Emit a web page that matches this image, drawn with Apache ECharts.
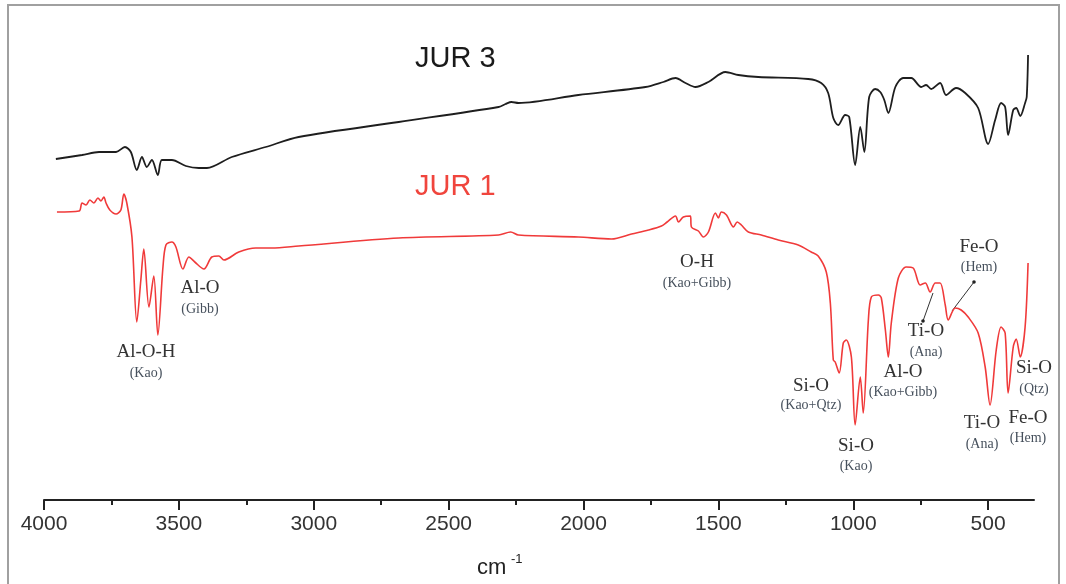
<!DOCTYPE html>
<html>
<head>
<meta charset="utf-8">
<script src="https://cdn.jsdelivr.net/npm/echarts@6/dist/echarts.min.js"></script>
<style>
  html, body { margin: 0; padding: 0; background: #fff; }
  #chart { width: 1066px; height: 584px; }
</style>
</head>
<body>
<div id="chart"></div>
<script>
// ---- data (wavenumber in cm-1, transmittance in arbitrary units) ----
const jur3Wavenumber = [3956,3859,3796,3733,3700,3678,3656,3637,3619,3600,3578,3563,3526,3474,3426,3396,3304,3178,3056,2685,2315,2289,2267,2241,2019,1770,1704,1659,1622,1585,1537,1474,1426,1352,1167,1119,1093,1074,1056,1030,1015,993,974,959,941,919,900,885,870,844,815,785,748,730,711,678,656,619,585,537,500,474,452,437,426,407,396,381,363,357,352];
const jur3Value      = [341,345,348,348,353,348,330,343,333,340,325,340,340,334,332,332,343,353,363,378,393,396,398,397,405,413,418,422,417,413,418,428,425,423,421,417,407,382,375,385,383,335,373,348,403,411,408,400,387,413,422,422,413,415,411,417,405,412,407,392,356,380,397,393,365,390,392,384,397,403,445];

const jur1Wavenumber = [3952,3870,3859,3844,3830,3815,3800,3789,3778,3770,3756,3733,3715,3704,3693,3674,3656,3641,3630,3611,3593,3578,3559,3548,3526,3511,3485,3463,3441,3407,3378,3352,3333,3278,3215,3156,3056,2685,2315,2270,2241,2019,1896,1822,1759,1711,1690,1659,1648,1630,1604,1600,1574,1556,1537,1511,1500,1489,1470,1444,1430,1415,1389,1341,1278,1204,1156,1130,1100,1085,1074,1067,1052,1037,1026,1007,993,974,963,944,933,907,896,881,870,859,833,804,778,752,733,715,696,678,659,648,622,600,574,537,511,493,470,452,437,426,407,396,381,363,352];
const jur1Value      = [288,289,297,295,300,297,302,299,303,297,290,286,290,306,297,263,178,220,251,193,224,165,233,255,258,253,231,243,238,231,243,244,240,248,252,252,254,262,265,268,265,263,261,266,270,274,278,284,278,283,284,273,269,263,268,287,282,288,285,273,278,275,268,265,260,255,248,244,228,197,140,138,127,157,160,143,75,123,87,180,203,205,202,170,143,177,222,233,232,215,217,208,217,217,195,180,192,190,183,167,133,95,150,173,167,107,153,161,143,173,237];

const majorTicks = [4000,3500,3000,2500,2000,1500,1000,500];
const minorTicks = [3750,3250,2750,2250,1750,1250,750];

const annotations = [
  // [main, sub, x, yMain, ySub]
  ['Al-O-H', '(Kao)', 146, 352, 373],
  ['Al-O', '(Gibb)', 200, 288, 309],
  ['O-H', '(Kao+Gibb)', 697, 262, 283],
  ['Si-O', '(Kao+Qtz)', 811, 386, 405],
  ['Si-O', '(Kao)', 856, 446, 466],
  ['Al-O', '(Kao+Gibb)', 903, 372, 392],
  ['Ti-O', '(Ana)', 926, 331, 352],
  ['Fe-O', '(Hem)', 979, 247, 267],
  ['Ti-O', '(Ana)', 982, 423, 444],
  ['Fe-O', '(Hem)', 1028, 418, 438],
  ['Si-O', '(Qtz)', 1034, 368, 389]
];

const zip = (xs, ys) => xs.map((x, i) => [x, ys[i]]);

const graphics = [
  { type: 'rect', shape: { x: 8, y: 5, width: 1051, height: 600 },
    style: { fill: 'none', stroke: '#a0a0a0', lineWidth: 2 }, silent: true, z: 0 },
  { type: 'text', left: 415, top: 44, style: { text: 'JUR 3', font: '29px "Liberation Sans", Arial, sans-serif', fill: '#1a1a1a' } },
  { type: 'text', left: 415, top: 172, style: { text: 'JUR 1', font: '29px "Liberation Sans", Arial, sans-serif', fill: '#f0453d' } },
  { type: 'text', left: 477, top: 557, style: { text: 'cm', font: '22px "Liberation Sans", Arial, sans-serif', fill: '#222' } },
  { type: 'text', left: 511, top: 553, style: { text: '-1', font: '13px "Liberation Sans", Arial, sans-serif', fill: '#222' } },
  // arrows
  { type: 'line', shape: { x1: 923, y1: 321, x2: 933, y2: 293 }, style: { stroke: '#333', lineWidth: 1 } },
  { type: 'circle', shape: { cx: 923, cy: 321, r: 1.8 }, style: { fill: '#222' } },
  { type: 'line', shape: { x1: 952, y1: 311, x2: 974, y2: 282 }, style: { stroke: '#333', lineWidth: 1 } },
  { type: 'circle', shape: { cx: 974, cy: 282, r: 1.8 }, style: { fill: '#222' } }
];
annotations.forEach(a => {
  graphics.push({ type: 'text', x: a[2], y: a[3], style: { text: a[0], font: '19px "Liberation Serif", "Times New Roman", serif', fill: '#333', align: 'center', verticalAlign: 'middle' } });
  graphics.push({ type: 'text', x: a[2], y: a[4], style: { text: a[1], font: '14px "Liberation Serif", "Times New Roman", serif', fill: '#46505c', align: 'center', verticalAlign: 'middle' } });
});

const chart = echarts.init(document.getElementById('chart'), null, { renderer: 'canvas' });
chart.setOption({
  animation: false,
  backgroundColor: '#fff',
  grid: { left: 44, right: 32, top: 5, bottom: 84, containLabel: false },
  xAxis: [
    {
      type: 'value', min: 330, max: 4000, inverse: true, position: 'bottom',
      axisLine: { show: true, lineStyle: { color: '#222', width: 2 } },
      axisTick: { show: true, customValues: majorTicks, length: 10, lineStyle: { color: '#222', width: 2 } },
      axisLabel: { customValues: majorTicks, fontSize: 21, color: '#333', margin: 14,
        fontFamily: '"Liberation Sans", Arial, sans-serif', formatter: v => String(v) },
      splitLine: { show: false }
    },
    {
      type: 'value', min: 330, max: 4000, inverse: true, position: 'bottom', offset: 0,
      axisLine: { show: false },
      axisTick: { show: true, customValues: minorTicks, length: 5, lineStyle: { color: '#222', width: 2 } },
      axisLabel: { show: false },
      splitLine: { show: false }
    }
  ],
  yAxis: { type: 'value', min: 0, max: 495, show: false },
  series: [
    { name: 'JUR 3', type: 'line', xAxisIndex: 0, data: zip(jur3Wavenumber, jur3Value), showSymbol: false, smooth: 0.3,
      lineStyle: { color: '#1e1e1e', width: 1.8 } },
    { name: 'JUR 1', type: 'line', xAxisIndex: 0, data: zip(jur1Wavenumber, jur1Value), showSymbol: false, smooth: 0.3,
      lineStyle: { color: '#f03a3a', width: 1.6 } }
  ],
  graphic: graphics
});
</script>
</body>
</html>
